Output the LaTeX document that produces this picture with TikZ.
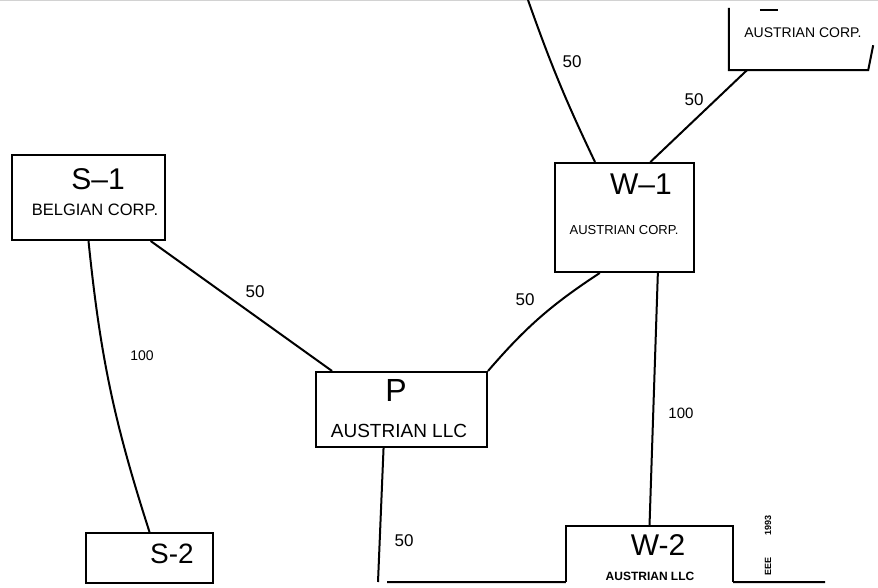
\documentclass[tikz,border=0pt]{standalone}
\usepackage{fontspec}
\setmainfont{Liberation Sans}
\newcommand{\fsz}[1]{\fontsize{#1}{#1}\selectfont}
\begin{document}
\begin{tikzpicture}[x=1pt,y=-1pt,
  box/.style={draw, line width=2pt, inner sep=0pt},
  ghost/.style={inner sep=0pt},
  conn/.style={line width=2pt},
  lbl/.style={font=\fsz{17}, inner sep=0pt},
  title/.style={font=\fsz{30}, inner sep=0pt},
  sub/.style={font=\fsz{14}, inner sep=0pt}]
\useasboundingbox (0,0) rectangle (878,588);
\clip (0,0) rectangle (878,588);
\draw[gray!35, line width=1pt] (0,1) -- (878,1);

% boxes
\node[box, minimum width=153pt, minimum height=85pt] (S1) at (88.5,197.5) {};
\node[title] (S1t) at (98,179) {S–1};
\node[sub, font=\fsz{16.5}] (S1s) at (95,210) {BELGIAN CORP.};

\node[box, minimum width=139pt, minimum height=109pt] (W1) at (624.5,217.5) {};
\node[title] (W1t) at (641,184) {W–1};
\node[sub, font=\fsz{13}] (W1s) at (624,230) {AUSTRIAN CORP.};

\node[box, minimum width=171pt, minimum height=75pt] (P) at (401.5,409.5) {};
\node[title, font=\fsz{32}] (Pt) at (396,390) {P};
\node[sub, font=\fsz{19}] (Ps) at (399,431) {AUSTRIAN LLC};

\node[ghost, minimum width=144pt, minimum height=62pt] (TR) at (801,39) {};
\draw[conn] (TR.north west) -- (TR.south west) -- ([xshift=-5pt]TR.south east) -- ([yshift=25pt]TR.south east);
\draw[conn] ([xshift=31pt,yshift=-2pt]TR.north west) -- ++(18,0);
\node[sub, font=\fsz{14}] (TRs) at (803,33) {AUSTRIAN CORP.};

\node[box, minimum width=127pt, minimum height=50pt] (S2) at (149.5,558) {};
\node[title, font=\fsz{28}] (S2t) at (172,554) {S-2};

\node[ghost, minimum width=167pt, minimum height=56pt] (W2) at (649.5,554) {};
\draw[conn] (W2.south west) -- (W2.north west) -- (W2.north east) -- (W2.south east);
\node[title, font=\fsz{30}] (W2t) at (658,545) {W-2};
\node[sub, font=\bfseries\fsz{12}] (W2s) at (650,576) {AUSTRIAN LLC};

% connectors
\draw[conn] (S1.south) to[bend right=6] (S2.north);
\draw[conn] (S1.-35) -- (P.151);
\draw[conn] (P.north east) to[bend left=8] (W1.-114);
\coordinate (topend) at (528,0);
\draw[conn] (W1.118) to[bend left=3] (topend);
\draw[conn] (W1.65) -- (TR.-150);
\draw[conn] (W1.-59) -- (W2.north);
\coordinate (pb) at (378,582);
\draw[conn] (P.-115) -- (pb);
\coordinate (hl) at (387,582);
\draw[conn] (hl) -- (W2.south west);
\coordinate (hr) at (825,582);
\draw[conn] (W2.south east) -- (hr);

% labels
\node[lbl, font=\fsz{14}] (l1) at (142,356) {100};
\node[lbl] (l2) at (255,292) {50};
\node[lbl] (l3) at (525,300) {50};
\node[lbl] (l4) at (572,62) {50};
\node[lbl] (l5) at (694,100) {50};
\node[lbl, font=\fsz{15}] (l6) at (681,413) {100};
\node[lbl] (l7) at (404,541) {50};

% fax margin text
\node[rotate=90, font=\bfseries\fsz{9}, inner sep=0pt] (fx1) at (768,525) {1993};
\node[rotate=90, font=\bfseries\fsz{9}, inner sep=0pt] (fx2) at (768,566) {EEE};
\end{tikzpicture}
\end{document}
